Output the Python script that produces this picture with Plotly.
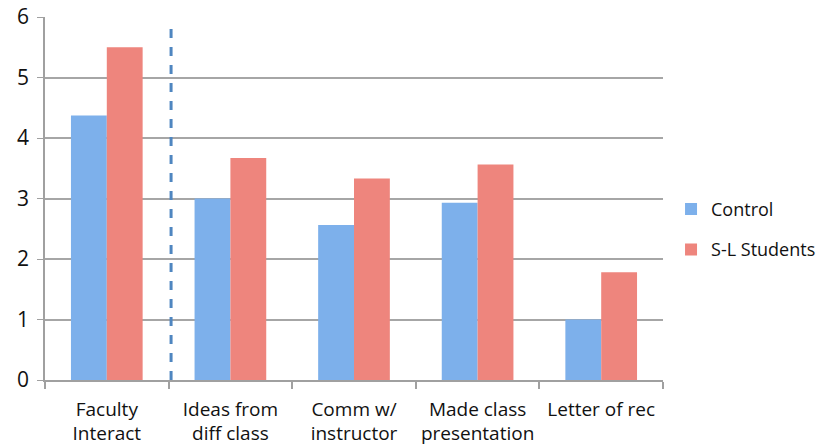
import plotly.graph_objects as go

categories = ["Faculty<br>Interact", "Ideas from<br>diff class", "Comm w/<br>instructor",
              "Made class<br>presentation", "Letter of rec"]
control = [4.37, 3.0, 2.56, 2.93, 1.0]
sl_students = [5.5, 3.67, 3.33, 3.56, 1.78]
y_ticks = [0, 1, 2, 3, 4, 5, 6]

FONT = "Open Sans"

fig = go.Figure()
fig.add_trace(go.Bar(name="Control", x=categories, y=control, legendgroup="c",
                     marker=dict(color="#7DB0EB", line=dict(width=0))))
fig.add_trace(go.Bar(name="S-L Students", x=categories, y=sl_students, legendgroup="s",
                     marker=dict(color="#EE857D", line=dict(width=0))))

fig.add_shape(type="line", xref="x", yref="paper", x0=0.52, x1=0.52, y0=0, y1=0.98,
              line=dict(color="#4F86C0", width=3, dash="dash"))

fig.update_layout(
    width=828, height=448,
    margin=dict(l=45, r=165, t=17, b=68, autoexpand=False),
    paper_bgcolor="white", plot_bgcolor="white",
    barmode="group", bargap=0.42, bargroupgap=0,
    font=dict(family=FONT, size=19, color="#111111"),
    showlegend=True,
    legend=dict(x=1.013, y=0.415, xanchor="left", yanchor="middle",
                font=dict(size=18, color="#111111"), itemsizing="constant",
                tracegroupgap=14, itemwidth=30),
    xaxis=dict(showgrid=False, showline=True, linecolor="#A0A0A0", linewidth=1.5,
               ticks="outside", ticklen=7, tickcolor="#A0A0A0", tickwidth=1.5,
               tickson="boundaries", tickfont=dict(size=19), automargin=False,
               ticklabelstandoff=11),
    yaxis=dict(range=[0, 6], tickvals=y_ticks, showgrid=True, gridcolor="#A6A6A6",
               gridwidth=1.5, showline=True, linecolor="#A0A0A0", linewidth=1.5,
               ticks="outside", ticklen=6, tickcolor="#A0A0A0", zeroline=False,
               tickfont=dict(size=21), automargin=False, ticklabelstandoff=4),
)

fig.write_html("out.html")
